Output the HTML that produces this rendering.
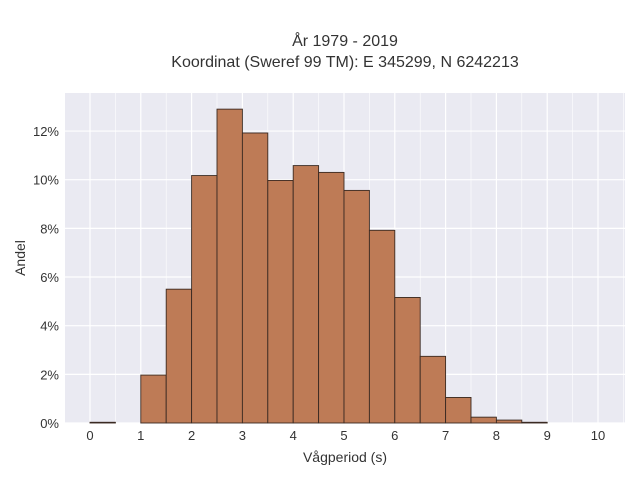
<!DOCTYPE html>
<html><head><meta charset="utf-8"><style>
body{margin:0;background:#fff;font-family:"Liberation Sans",sans-serif}
</style></head><body>
<svg id="c" width="640" height="480" xmlns="http://www.w3.org/2000/svg">
<rect width="640" height="480" fill="#fff"/>
<text x="345" y="46" text-anchor="middle" font-size="16" fill="#333">År 1979 - 2019</text>
<text x="345" y="67" text-anchor="middle" font-size="16" fill="#333">Koordinat (Sweref 99 TM): E 345299, N 6242213</text>
<rect x="65" y="93" width="560" height="330" fill="#eaeaf2"/>
<g id="grid"></g><g id="bars"></g><g id="ticks"></g>
<text x="345" y="462" text-anchor="middle" font-size="14" fill="#333">Vågperiod (s)</text>
<text transform="translate(25,258) rotate(-90)" text-anchor="middle" font-size="14" fill="#333">Andel</text>
</svg>
<script>
const binStarts=[0,0.5,1,1.5,2,2.5,3,3.5,4,4.5,5,5.5,6,6.5,7,7.5,8,8.5,9,9.5];
const shares=[0.03,0,1.97,5.5,10.17,12.9,11.92,9.97,10.58,10.3,9.56,7.92,5.16,2.74,1.05,0.24,0.12,0.03,0,0];
const xTicks=[0,1,2,3,4,5,6,7,8,9,10];
const yTicks=[0,2,4,6,8,10,12];
const NS="http://www.w3.org/2000/svg";
const X=v=>90+v*50.8, Y=v=>423-v*24.33;
function mk(t,a,p){const e=document.createElementNS(NS,t);for(const k in a)e.setAttribute(k,a[k]);p.appendChild(e);return e;}
const g=document.getElementById('grid'),b=document.getElementById('bars'),t=document.getElementById('ticks');
for(let v=-0.5;v<=10.5;v+=0.5){const l=mk('line',{x1:X(v),x2:X(v),y1:93,y2:423,stroke:'#fff','stroke-width':Number.isInteger(v)?1.2:0.6},g);

}
yTicks.forEach(v=>{const l=mk('line',{x1:65,x2:625,y1:Y(v),y2:Y(v),stroke:'#fff','stroke-width':1.2},g);


const s=mk('text',{x:59,y:Y(v)+5,'text-anchor':'end','font-size':13,fill:'#333'},t);s.textContent=v+'%';

});
xTicks.forEach(v=>{const s=mk('text',{x:X(v),y:440,'text-anchor':'middle','font-size':13,fill:'#333'},t);s.textContent=v;

});
binStarts.forEach((v,i)=>{if(shares[i]<=0)return;const r=mk('rect',{x:X(v),y:Y(shares[i]),width:X(v+0.5)-X(v),height:423-Y(shares[i]),fill:'rgb(190,123,86)',stroke:'#3a2a22','stroke-width':0.9},b);

});
</script>
</body></html>
